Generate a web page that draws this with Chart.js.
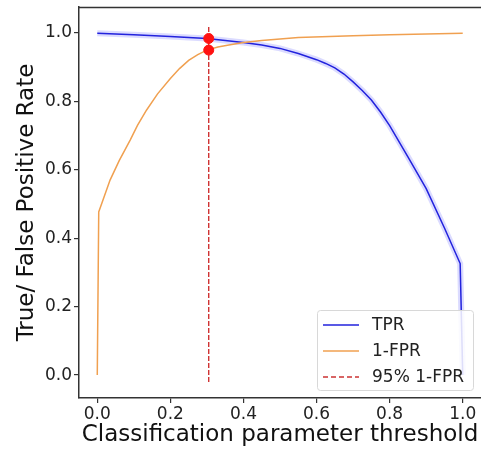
<!DOCTYPE html>
<html>
<head>
<meta charset="utf-8">
<script src="https://cdn.jsdelivr.net/npm/chart.js@4"></script>
<style>
  html, body { margin: 0; padding: 0; background: #fff; }
  canvas { display: block; }
</style>
</head>
<body>
<canvas id="graf" width="481" height="449"></canvas>
<script>
// Dados
const tprX = [0.0, 0.1, 0.2, 0.3, 0.4, 0.45, 0.5, 0.55, 0.6, 0.625, 0.65, 0.675, 0.7, 0.725, 0.75, 0.775, 0.8, 0.85, 0.9, 0.95, 0.993, 1.0];
const tprY = [0.999, 0.995, 0.99, 0.984, 0.972, 0.965, 0.955, 0.94, 0.922, 0.911, 0.898, 0.88, 0.857, 0.832, 0.804, 0.769, 0.729, 0.638, 0.545, 0.43, 0.326, 0.0];
const fprX = [0.0, 0.004, 0.02, 0.035, 0.06, 0.09, 0.11, 0.135, 0.165, 0.2, 0.225, 0.25, 0.275, 0.3, 0.33, 0.36, 0.4, 0.45, 0.55, 0.7, 0.8, 1.0];
const fprY = [0.0, 0.477, 0.525, 0.57, 0.627, 0.687, 0.73, 0.775, 0.822, 0.867, 0.896, 0.92, 0.937, 0.95, 0.959, 0.965, 0.972, 0.978, 0.987, 0.992, 0.995, 0.999];
const cutX = [0.305, 0.305];
const cutY = [-0.02, 1.023];
const markY = [0.984, 0.950];
const tickVals = [0.0, 0.2, 0.4, 0.6, 0.8, 1.0];

const pts = (xs, ys) => xs.map((x, i) => ({ x: x, y: ys[i] }));

const legendItems = [
  { label: "TPR", color: "#2222dd", dash: [] },
  { label: "1-FPR", color: "#f0a050", dash: [] },
  { label: "95% 1-FPR", color: "#cc3333", dash: [5, 3] }
];

// Moldura superior + legenda dentro da área do gráfico
const extras = {
  id: "extras",
  afterDraw(chart) {
    const ctx = chart.ctx;
    const a = chart.chartArea;
    ctx.save();
    ctx.strokeStyle = "#333";
    ctx.lineWidth = 1.5;
    ctx.beginPath();
    ctx.moveTo(a.left, a.top + 0.5);
    ctx.lineTo(a.right, a.top + 0.5);
    ctx.stroke();

    const bx = 317, by = 310, bw = 156, bh = 80;
    ctx.fillStyle = "rgba(255,255,255,0.85)";
    ctx.strokeStyle = "#d8d8d8";
    ctx.lineWidth = 1;
    ctx.beginPath();
    ctx.roundRect(bx + 0.5, by + 0.5, bw, bh, 3);
    ctx.fill();
    ctx.stroke();

    ctx.font = "17px 'DejaVu Sans'";
    ctx.textBaseline = "middle";
    legendItems.forEach((it, i) => {
      const y = by + 15 + i * 26;
      ctx.strokeStyle = it.color;
      ctx.lineWidth = 1.5;
      ctx.setLineDash(it.dash);
      ctx.beginPath();
      ctx.moveTo(bx + 6, y);
      ctx.lineTo(bx + 42, y);
      ctx.stroke();
      ctx.setLineDash([]);
      ctx.fillStyle = "#222";
      ctx.fillText(it.label, bx + 55, y + 1);
    });
    ctx.restore();
  }
};

new Chart(document.getElementById("graf"), {
  type: "line",
  data: {
    datasets: [
      { label: "band", data: pts(tprX, tprY), borderColor: "rgba(90,90,255,0.22)", borderWidth: 6,
        pointRadius: 0, tension: 0, fill: false, order: 5 },
      { label: "TPR", data: pts(tprX, tprY), borderColor: "#2222dd", borderWidth: 1.5,
        pointRadius: 0, tension: 0, fill: false, order: 4 },
      { label: "1-FPR", data: pts(fprX, fprY), borderColor: "#f0a050", borderWidth: 1.5,
        pointRadius: 0, tension: 0, fill: false, order: 3 },
      { label: "95% 1-FPR", data: pts(cutX, cutY), borderColor: "#cc2222", borderWidth: 1.3,
        borderDash: [5, 2], pointRadius: 0, fill: false, order: 2 },
      { label: "marks", type: "scatter", data: pts(cutX, markY), backgroundColor: "#ff1111",
        borderColor: "#ff1111", pointRadius: 5, order: 1 }
    ]
  },
  options: {
    responsive: false,
    animation: false,
    layout: { autoPadding: false, padding: { top: 7, right: 0, left: 0, bottom: 0 } },
    plugins: { legend: { display: false }, tooltip: { enabled: false } },
    scales: {
      x: {
        type: "linear", min: -0.05, max: 1.05,
        afterBuildTicks: s => { s.ticks = tickVals.map(v => ({ value: v })); },
        afterFit: s => { s.height = 51; s.paddingLeft = 0; s.paddingRight = 0; },
        grid: { display: true, drawOnChartArea: false, tickLength: 5, color: "#333", lineWidth: 1.2 },
        border: { color: "#333", width: 1.5 },
        ticks: { color: "#222", font: { family: "DejaVu Sans", size: 17 }, padding: 1,
                 maxRotation: 0, callback: v => v.toFixed(1) },
        title: { display: true, text: "Classification parameter threshold", color: "#111",
                 font: { family: "DejaVu Sans", size: 23 }, padding: { top: 0, bottom: 0 } }
      },
      y: {
        min: -0.067, max: 1.076,
        afterBuildTicks: s => { s.ticks = tickVals.map(v => ({ value: v })); },
        afterFit: s => { s.width = 79; s.paddingTop = 0; s.paddingBottom = 0; },
        grid: { display: true, drawOnChartArea: false, tickLength: 5, color: "#333", lineWidth: 1.2 },
        border: { color: "#333", width: 1.5 },
        ticks: { color: "#222", font: { family: "DejaVu Sans", size: 17 }, padding: 2,
                 callback: v => v.toFixed(1) },
        title: { display: true, text: "True/ False Positive Rate", color: "#111",
                 font: { family: "DejaVu Sans", size: 23 }, padding: { top: 13, bottom: 0 } }
      }
    }
  },
  plugins: [extras]
});
</script>
</body>
</html>
